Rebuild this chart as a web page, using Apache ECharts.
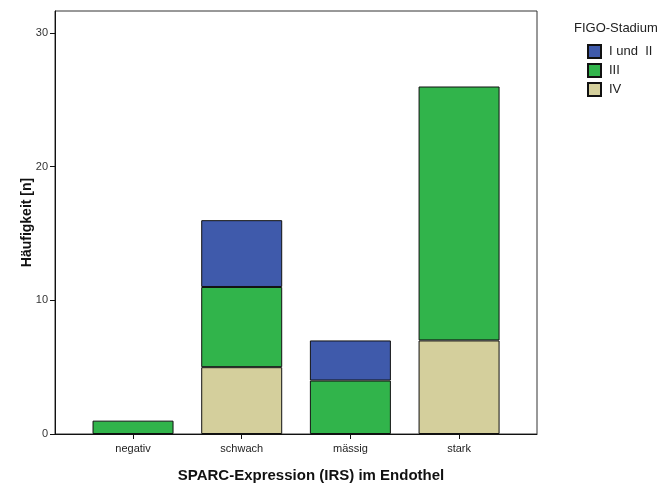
<!DOCTYPE html>
<html>
<head>
<meta charset="utf-8">
<script src="https://cdn.jsdelivr.net/npm/echarts@6/dist/echarts.min.js"></script>
<style>html,body{margin:0;padding:0;background:#fff}#c{width:670px;height:484px}</style>
</head>
<body>
<div id="c"></div>
<script>
const categories = ['negativ', 'schwach', 'mässig', 'stark'];
const seriesNames = ['I und  II', 'III', 'IV'];
const stageIandII = [null, 5, 3, null];
const stageIII = [1, 6, 4, 19];
const stageIV = [null, 5, null, 7];
const yTicks = [0, 10, 20, 30];

const FONT = '"Liberation Sans", Arial, sans-serif';
const chart = echarts.init(document.getElementById('c'), null, {renderer: 'canvas'});
const YMAX = 31.65;
const TICKMAX = yTicks[yTicks.length - 1];
// plot geometry
const PL = 55, PT = 11, PW = 482, PH = 423;
const tickTop = PT + PH * (1 - TICKMAX / YMAX);
const bar = (name, data, color) => ({
  name: name, type: 'bar', stack: 'total', data: data,
  xAxisIndex: 2, yAxisIndex: 2, barWidth: 81,
  itemStyle: {color: color, borderColor: '#111', borderWidth: 1},
  emphasis: {disabled: true}
});
chart.setOption({
  animation: false,
  textStyle: {fontFamily: FONT},
  title: [
    {text: 'SPARC-Expression (IRS) im Endothel', left: 306, top: 463, textAlign: 'center',
     textStyle: {fontSize: 15, fontWeight: 'bold', color: '#111', fontFamily: FONT}},
    {text: 'FIGO-Stadium', left: 569, top: 17,
     textStyle: {fontSize: 13, fontWeight: 'normal', color: '#222', fontFamily: FONT}}
  ],
  legend: {
    orient: 'vertical', left: 582, top: 39, itemWidth: 13, itemHeight: 13, itemGap: 4,
    icon: 'rect', data: seriesNames,
    textStyle: {fontSize: 13, color: '#222', fontFamily: FONT, padding: [0, 0, 0, 3]}
  },
  grid: [
    {left: PL, top: PT, width: PW, height: PH, show: true, borderColor: '#333', borderWidth: 1, backgroundColor: '#fff'},
    {left: PL, top: tickTop, width: PW, height: PT + PH - tickTop},
    {left: 78.7, top: PT, width: 434.7, height: PH}
  ],
  xAxis: [
    {type: 'value', gridIndex: 0, min: 0, max: 1, axisLabel: {show: false}, axisTick: {show: false},
     splitLine: {show: false}, axisLine: {show: true, lineStyle: {color: '#111'}}},
    {type: 'value', gridIndex: 1, min: 0, max: 1, show: false, splitLine: {show: false}},
    {type: 'category', gridIndex: 2, data: categories,
     axisLine: {show: false},
     axisTick: {show: true, alignWithLabel: true, length: 5, lineStyle: {color: '#111'}},
     axisLabel: {fontSize: 11, color: '#222', margin: 9, fontFamily: FONT}}
  ],
  yAxis: [
    {type: 'value', gridIndex: 0, min: 0, max: YMAX, show: true,
     name: 'Häufigkeit [n]', nameLocation: 'middle', nameGap: 21,
     nameTextStyle: {fontSize: 14, fontWeight: 'bold', color: '#111', fontFamily: FONT},
     axisLine: {show: true, lineStyle: {color: '#111'}},
     axisTick: {show: false}, axisLabel: {show: false}, splitLine: {show: false}},
    {type: 'value', gridIndex: 1, min: 0, max: TICKMAX, interval: 10,
     axisLine: {show: false},
     axisTick: {show: true, length: 5, lineStyle: {color: '#111'}},
     axisLabel: {fontSize: 11, color: '#333', margin: 7, fontFamily: FONT},
     splitLine: {show: false}},
    {type: 'value', gridIndex: 2, min: 0, max: YMAX, show: false, splitLine: {show: false}}
  ],
  series: [
    bar(seriesNames[2], stageIV, '#D4CF9C'),
    bar(seriesNames[1], stageIII, '#31B44B'),
    bar(seriesNames[0], stageIandII, '#3F5AAB')
  ]
});
</script>
</body>
</html>
